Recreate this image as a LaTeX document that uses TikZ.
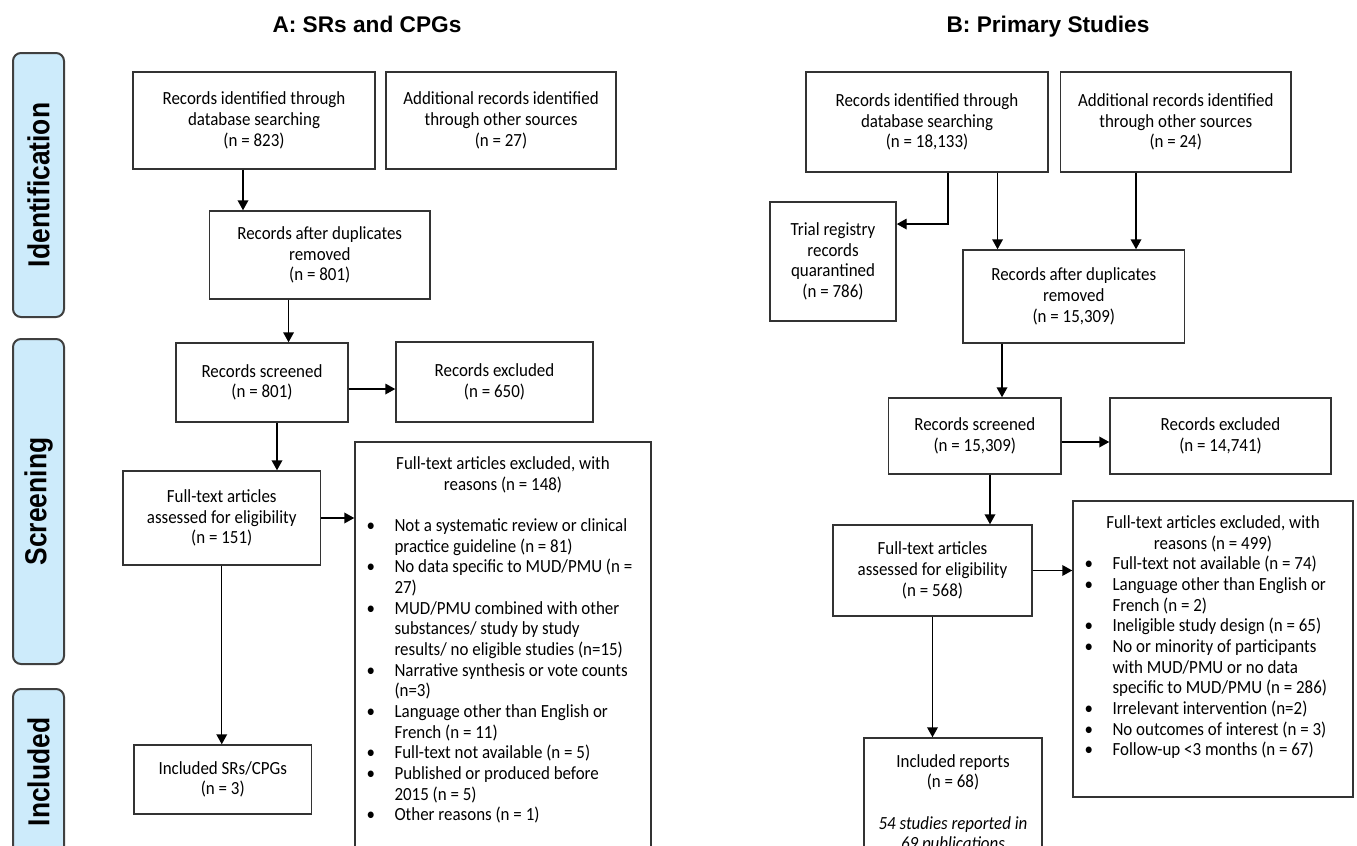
\documentclass[tikz,border=0pt]{standalone}
\usepackage{fontspec}
\usepackage{graphicx}
\setmainfont{Carlito}[FakeStretch=0.914]
\newfontfamily\arialfont{Liberation Sans}
\usetikzlibrary{arrows.meta}
\definecolor{azulfase}{RGB}{205,235,251}
\newcommand{\cuerpo}{\fontsize{13.9pt}{15.5pt}\selectfont}

\begin{document}
\begin{tikzpicture}[x=0.75pt, y=-0.75pt,
    caja/.style={draw=black!80, line width=1.1pt, align=center, inner sep=0pt, font=\cuerpo},
    texto/.style={inner sep=0pt, font=\cuerpo},
    flecha/.style={-{Triangle[length=7.5pt,width=8pt]}, line width=1.1pt},
    fase/.style={draw=black!75, fill=azulfase, line width=1.5pt, rounded corners=6pt, rotate=90,
        font=\arialfont\bfseries\fontsize{19.8pt}{22pt}\selectfont},
    titulo/.style={font=\arialfont\bfseries\fontsize{17pt}{20pt}\selectfont, anchor=base}]

    \useasboundingbox (0,0) rectangle (1357,846);
    \clip (0,0) rectangle (1357,846);

    % Titulos
    \node[titulo] (tA) at (367,32.5) {A: SRs and CPGs};
    \node[titulo] (tB) at (1048,32.5) {B: Primary Studies};

    % Fases
    \node[fase, minimum width=198pt, minimum height=38.25pt] (ident) at (38.5,185) {\scalebox{1}[1.15]{Identification}};
    \node[fase, minimum width=243.75pt, minimum height=38.25pt] (cribado) at (38.5,501.5) {\scalebox{1}[1.15]{Screening}};
    \node[fase, minimum width=124.5pt, minimum height=38.25pt] (incl) at (38.5,772) {\scalebox{1}[1.15]{Included}};

    % Cajas A
    \node[caja, minimum width=181.5pt, minimum height=72.75pt] (a1) at (254,120.5) {Records identified through\\database searching\\(n = 823)};
    \node[caja, minimum width=172.5pt, minimum height=72.75pt] (a2) at (501,120.5) {Additional records identified\\through other sources\\(n = 27)};
    \node[caja, minimum width=165.4pt, minimum height=66pt] (a3) at (319.75,255) {Records after duplicates\\removed\\(n = 801)};
    \node[caja, minimum width=129pt, minimum height=59.25pt] (a4) at (262,382.5) {Records screened\\(n = 801)};
    \node[caja, minimum width=147.75pt, minimum height=60pt] (a5) at (494.5,382) {Records excluded\\(n = 650)};
    \node[caja, minimum width=148.1pt, minimum height=70.5pt] (a6) at (221.75,518) {Full-text articles\\assessed for eligibility\\(n = 151)};
    \node[caja, minimum width=222pt, minimum height=343.5pt] (a7) at (503,671) {};
    \node[texto, anchor=north, align=center] (a7h) at ([yshift=-10.1pt]a7.north)
        {\strut Full-text articles excluded, with\\reasons (n = 148)};
    \node[texto, anchor=north west] (a7l) at ([xshift=9pt,yshift=-56.6pt]a7.north west)
        {\begin{tabular}{@{}p{21pt}@{}l@{}}
        \textbullet & Not a systematic review or clinical\\
         & practice guideline (n = 81)\\
        \textbullet & No data specific to MUD/PMU (n =\\
         & 27)\\
        \textbullet & MUD/PMU combined with other\\
         & substances/ study by study\\
         & results/ no eligible studies (n=15)\\
        \textbullet & Narrative synthesis or vote counts\\
         & (n=3)\\
        \textbullet & Language other than English or\\
         & French (n = 11)\\
        \textbullet & Full-text not available (n = 5)\\
        \textbullet & Published or produced before\\
         & 2015 (n = 5)\\
        \textbullet & Other reasons (n = 1)
        \end{tabular}};
    \node[caja, minimum width=133.1pt, minimum height=51.75pt] (a8) at (222.75,779.5) {Included SRs/CPGs\\(n = 3)};

    % Flechas A
    \draw[flecha] ([xshift=-8.25pt]a1.south) -- ([xshift=-8.25pt]a1.south |- a3.north);
    \draw[flecha] ([xshift=-23.4pt]a3.south) -- ([xshift=-23.4pt]a3.south |- a4.north);
    \draw[flecha] ([yshift=-4.9pt]a4.east) -- ([yshift=-4.9pt]a4.east -| a5.west);
    \draw[flecha] ([xshift=11.25pt]a4.south) -- ([xshift=11.25pt]a4.south |- a6.north);
    \draw[flecha] (a6.east) -- (a6.east -| a7.west);
    \draw[flecha] (a6.south) -- (a6.south |- a8.north);

    % Cajas B
    \node[caja, minimum width=181.5pt, minimum height=75pt] (b1) at (927,122) {Records identified through\\database searching\\(n = 18,133)};
    \node[caja, minimum width=172.9pt, minimum height=75pt] (b2) at (1175.75,122) {Additional records identified\\through other sources\\(n = 24)};
    \node[caja, minimum width=94.5pt, minimum height=89.25pt] (b3) at (833,261.5) {Trial registry\\records\\quarantined\\(n = 786)};
    \node[caja, minimum width=166.1pt, minimum height=69.75pt] (b4) at (1073.75,296.5) {Records after duplicates\\removed\\(n = 15,309)};
    \node[caja, minimum width=129.3pt, minimum height=57pt] (b5) at (974.8,436) {Records screened\\(n = 15,309)};
    \node[caja, minimum width=165.75pt, minimum height=57pt] (b6) at (1220.5,436) {Records excluded\\(n = 14,741)};
    \node[caja, minimum width=149.25pt, minimum height=68.25pt] (b7) at (932.5,570.5) {Full-text articles\\assessed for eligibility\\(n = 568)};
    \node[caja, minimum width=210pt, minimum height=222pt] (b8) at (1213,649) {};
    \node[texto, anchor=north, align=center] (b8h) at ([yshift=-10.1pt]b8.north)
        {\strut Full-text articles excluded, with\\reasons (n = 499)};
    \node[texto, anchor=north west] (b8l) at ([xshift=9pt,yshift=-41.1pt]b8.north west)
        {\begin{tabular}{@{}p{21pt}@{}l@{}}
        \textbullet & Full-text not available (n = 74)\\
        \textbullet & Language other than English or\\
         & French (n = 2)\\
        \textbullet & Ineligible study design (n = 65)\\
        \textbullet & No or minority of participants\\
         & with MUD/PMU or no data\\
         & specific to MUD/PMU (n = 286)\\
        \textbullet & Irrelevant intervention (n=2)\\
        \textbullet & No outcomes of interest (n = 3)\\
        \textbullet & Follow-up <3 months (n = 67)
        \end{tabular}};
    \node[caja, minimum width=133.5pt, minimum height=121.5pt] (b9) at (953,819) {};
    \node[texto, anchor=north, align=center] (b9t) at ([yshift=-11.4pt]b9.north)
        {\strut Included reports\\(n = 68)\\[15.5pt]\textit{54 studies reported in}\\\textit{69 publications}};

    % Flechas B
    \draw[flecha] ([xshift=15.75pt]b1.south) |- ([yshift=28.1pt]b3.east);
    \draw[flecha] ([xshift=52.9pt]b1.south) -- ([xshift=52.9pt]b1.south |- b4.north);
    \draw[flecha] ([xshift=-29.8pt]b2.south) -- ([xshift=-29.8pt]b2.south |- b4.north);
    \draw[flecha] ([xshift=-53.8pt]b4.south) -- ([xshift=-53.8pt]b4.south |- b5.north);
    \draw[flecha] ([yshift=-4.5pt]b5.east) -- ([yshift=-4.5pt]b5.east -| b6.west);
    \draw[flecha] ([xshift=11.4pt]b5.south) -- ([xshift=11.4pt]b5.south |- b7.north);
    \draw[flecha] (b7.east) -- (b7.east -| b8.west);
    \draw[flecha] (b7.south) -- (b7.south |- b9.north);
\end{tikzpicture}
\end{document}
